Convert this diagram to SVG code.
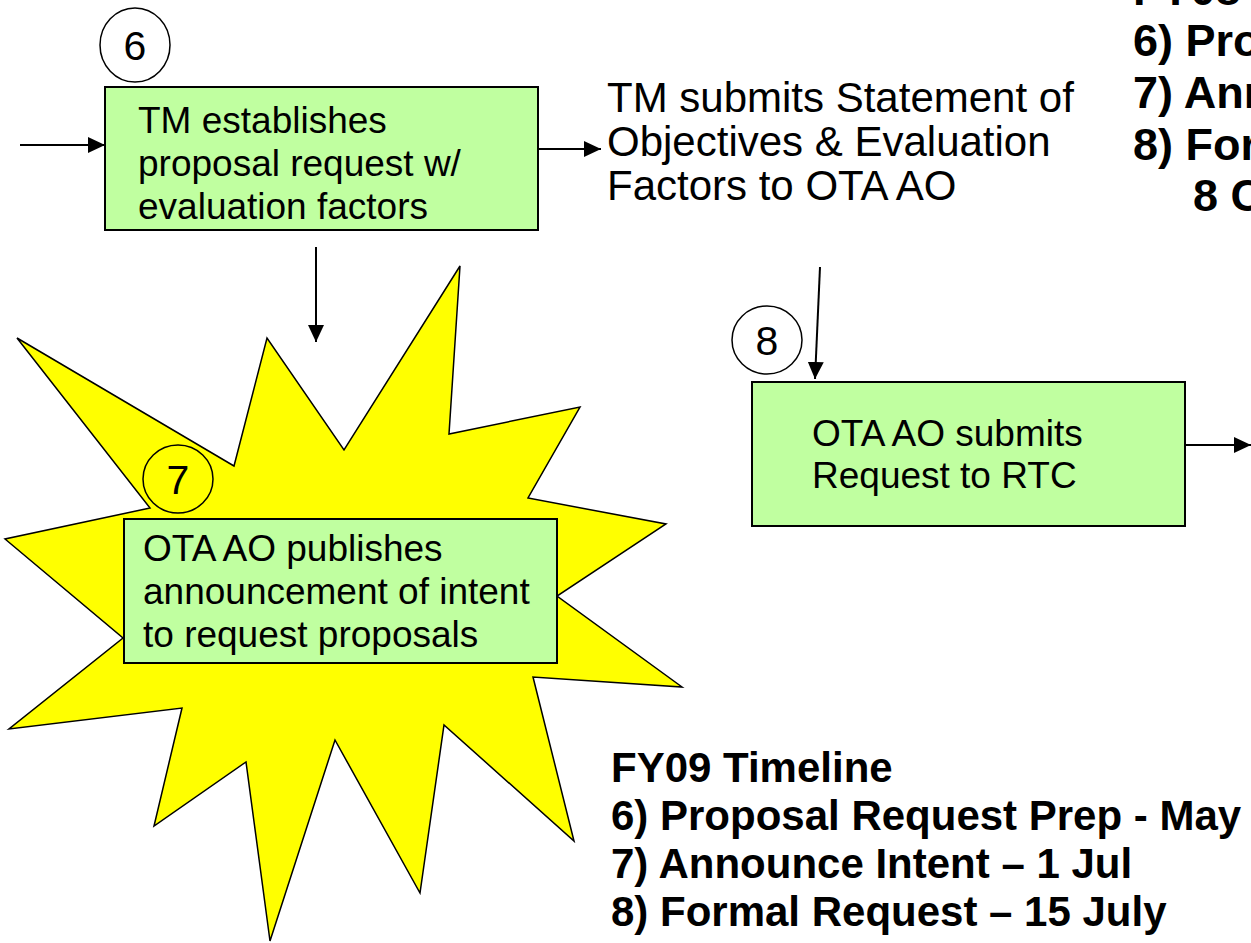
<svg xmlns="http://www.w3.org/2000/svg" width="1251" height="943" viewBox="0 0 1251 943">
  <style>
    .box { fill: #C0FFA0; stroke: #000; stroke-width: 2; }
    .num { fill: #fff; stroke: #000; stroke-width: 1.5; }
    .t { font-family: "Liberation Sans", Arial, sans-serif; fill: #000; }
    .bt { font-size: 37px; }
    .nt { font-size: 41px; text-anchor: middle; }
    .st { font-size: 42px; }
    .tl { font-size: 42px; font-weight: bold; }
    .tr { font-size: 45px; font-weight: bold; }
    .conn { stroke: #000; stroke-width: 2; fill: none; marker-end: url(#arr); }
  </style>
  <defs>
    <marker id="arr" markerUnits="userSpaceOnUse" markerWidth="18" markerHeight="16" refX="17" refY="8" orient="auto">
      <path d="M0,0 L17,8 L0,16 Z" fill="#000"/>
    </marker>
  </defs>
  <rect width="1251" height="943" fill="#fff"/>

  <g id="star7">
    <polygon points="17,338 234,466 267,338 344,450 460,266 449,434 580,407 528,498 666,524 557,596 682,687 533,677 574,841 444,725 420,893 335,740 270,941 246,762 154,826 182,708 9,729 123,638 5,539 150,508" fill="#FFFF00" stroke="#000" stroke-width="1.5" stroke-linejoin="miter"/>
  </g>

  <g id="connectors">
    <line class="conn" x1="20" y1="145" x2="105" y2="145"/>
    <line class="conn" x1="538" y1="149" x2="601" y2="149"/>
    <line class="conn" x1="316" y1="247" x2="316" y2="342"/>
    <line class="conn" x1="820" y1="267" x2="815" y2="379"/>
    <line class="conn" x1="1182" y1="445" x2="1251" y2="445"/>
  </g>

  <g id="node6">
    <ellipse class="num" cx="135" cy="45" rx="35" ry="37"/>
    <text class="t nt" x="135" y="60">6</text>
    <rect class="box" x="105" y="87" width="433" height="143"/>
    <text class="t bt" x="138" y="133">TM establishes</text>
    <text class="t bt" x="138" y="176">proposal request w/</text>
    <text class="t bt" x="138" y="219">evaluation factors</text>
  </g>

  <g id="statement">
    <text class="t st" x="607" y="112">TM submits Statement of</text>
    <text class="t st" x="607" y="156">Objectives &amp; Evaluation</text>
    <text class="t st" x="607" y="200">Factors to OTA AO</text>
  </g>

  <g id="node7">
    <ellipse cx="178" cy="479" rx="35" ry="34" fill="#FFFF00" stroke="#000" stroke-width="1.5"/>
    <text class="t nt" x="178" y="494">7</text>
    <rect class="box" x="124" y="519" width="433" height="144"/>
    <text class="t bt" x="143" y="561">OTA AO publishes</text>
    <text class="t bt" x="143" y="604">announcement of intent</text>
    <text class="t bt" x="143" y="647">to request proposals</text>
  </g>

  <g id="node8">
    <ellipse class="num" cx="767" cy="340" rx="35" ry="34"/>
    <text class="t nt" x="767" y="355">8</text>
    <rect class="box" x="752" y="382" width="433" height="144"/>
    <text class="t bt" x="812" y="446">OTA AO submits</text>
    <text class="t bt" x="812" y="488">Request to RTC</text>
  </g>

  <g id="timeline09">
    <text class="t tl" x="611" y="782">FY09 Timeline</text>
    <text class="t tl" x="611" y="830">6) Proposal Request Prep - May</text>
    <text class="t tl" x="611" y="878">7) Announce Intent – 1 Jul</text>
    <text class="t tl" x="611" y="926">8) Formal Request – 15 July</text>
  </g>

  <g id="timeline08">
    <text class="t tr" x="1133" y="5">FY08</text>
    <text class="t tr" x="1133" y="56">6) Pro</text>
    <text class="t tr" x="1133" y="108">7) Ann</text>
    <text class="t tr" x="1133" y="160">8) For</text>
    <text class="t tr" x="1193" y="211">8 C</text>
  </g>
</svg>
